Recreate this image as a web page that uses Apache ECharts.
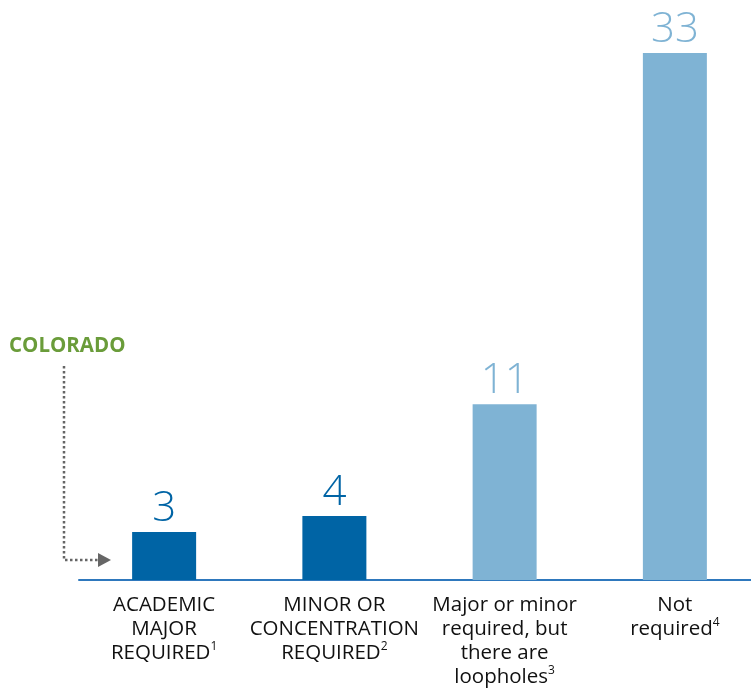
<!DOCTYPE html>
<html>
<head>
<meta charset="utf-8">
<script src="https://cdn.jsdelivr.net/npm/echarts@6/dist/echarts.min.js"></script>
<style>html,body{margin:0;padding:0;background:#fff;}#c{width:751px;height:692px;}</style>
</head>
<body>
<div id="c"></div>
<script>
const categories = [
  'ACADEMIC\nMAJOR\nREQUIRED{s|1}',
  'MINOR OR\nCONCENTRATION\nREQUIRED{s|2}',
  'Major or minor\nrequired, but\nthere are\nloopholes{s|3}',
  'Not\nrequired{s|4}'
];
const values = [3, 4, 11, 33];
const barColors = ['#0064A5', '#0064A5', '#7FB3D4', '#7FB3D4'];

const chart = echarts.init(document.getElementById('c'));
chart.setOption({
  animation: false,
  grid: { left: 79, width: 681, top: 53, bottom: 112, outerBoundsMode: 'none', containLabel: false },
  xAxis: {
    type: 'category',
    data: categories,
    axisLine: { lineStyle: { color: '#2E78BD', width: 2 } },
    axisTick: { show: false },
    axisLabel: {
      interval: 0,
      margin: 13,
      fontFamily: 'Open Sans',
      fontSize: 20.5,
      lineHeight: 24,
      color: '#111',
      align: 'center',
      rich: { s: { fontSize: 12, verticalAlign: 'top', lineHeight: 24, padding: [0, 0, 8, 0], fontFamily: 'Open Sans', color: '#111' } }
    }
  },
  yAxis: { type: 'value', min: 0, max: 33, show: false, splitLine: { show: false } },
  series: [{
    type: 'bar',
    barWidth: 64,
    data: values.map((v, i) => ({ value: v, itemStyle: { color: barColors[i] }, label: { color: barColors[i] } })),
    label: {
      show: true,
      position: 'top',
      distance: 2,
      fontFamily: 'Open Sans',
      fontWeight: 300,
      fontSize: 42
    }
  }],
  graphic: [
    { type: 'text', left: 9, top: 336, style: { text: 'COLORADO', fill: '#6A9C3A', font: 'bold 20.5px "Open Sans"' } },
    { type: 'polyline', shape: { points: [[64, 366], [64, 560], [99, 560]] }, style: { stroke: '#666', lineWidth: 2.5, lineDash: [2.5, 2.5], fill: null } },
    { type: 'polygon', shape: { points: [[98, 553], [111, 560], [98, 567]] }, style: { fill: '#666' } }
  ]
});
</script>
</body>
</html>
